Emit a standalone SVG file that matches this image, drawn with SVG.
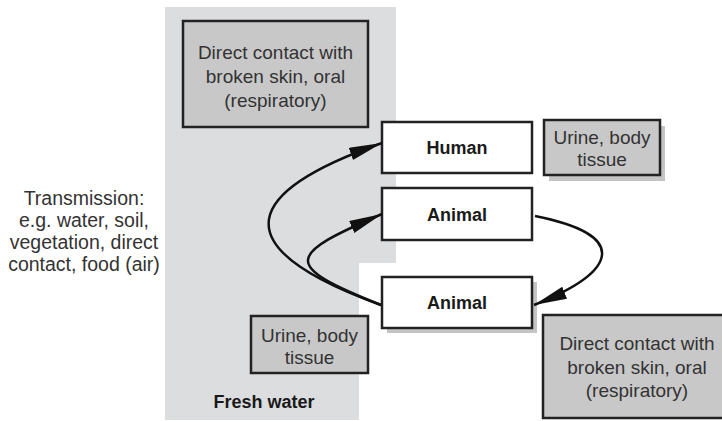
<svg xmlns="http://www.w3.org/2000/svg" width="722" height="421" viewBox="0 0 722 421">
<defs>
<style>
.box{fill:#c8c8c8;stroke:#222;stroke-width:2.5}
.wbox{fill:#fff;stroke:#222;stroke-width:2.5}
.sh{fill:#c4c4c4}
.t{font-family:"Liberation Sans",Arial,sans-serif;font-size:19px;fill:#333;text-anchor:middle}
.tr{font-size:19.5px}
.b{font-family:"Liberation Sans",Arial,sans-serif;font-size:18px;font-weight:bold;fill:#1a1a1a;text-anchor:middle}
.c{fill:none;stroke:#111;stroke-width:2.5}
</style>
<marker id="ah" markerUnits="userSpaceOnUse" markerWidth="36" markerHeight="14" refX="33" refY="6.5" orient="auto">
<path d="M0,0 L33,6.5 L0,13 Z" fill="#111"/>
</marker>
</defs>
<rect width="722" height="421" fill="#fff"/>
<g id="fresh-water">
<polygon points="165,7 396,7 396,263 359,263 359,420 165,420" fill="#dcdddf"/>
<text class="b" x="264" y="408">Fresh water</text>
</g>
<g id="transmission">
<text class="t tr" x="84" y="205">Transmission:</text>
<text class="t tr" x="84" y="227">e.g. water, soil,</text>
<text class="t tr" x="84" y="249">vegetation, direct</text>
<text class="t tr" x="84" y="271">contact, food (air)</text>
</g>
<g id="contact-top">
<rect class="box" x="183" y="21" width="185" height="106"/>
<text class="t" x="275.5" y="59">Direct contact with</text>
<text class="t" x="275.5" y="83">broken skin, oral</text>
<text class="t" x="275.5" y="107">(respiratory)</text>
</g>
<g id="human">
<rect class="wbox" x="382" y="122" width="150" height="51"/>
<text class="b" x="457" y="154">Human</text>
</g>
<g id="urine-top">
<rect class="sh" x="549" y="126" width="116" height="55"/>
<rect class="box" x="544" y="120" width="116" height="55"/>
<text class="t" x="602" y="144">Urine, body</text>
<text class="t" x="602" y="166">tissue</text>
</g>
<g id="animal-1">
<rect class="wbox" x="382" y="188" width="150" height="52"/>
<text class="b" x="457" y="221">Animal</text>
</g>
<g id="animal-2">
<rect class="sh" x="387" y="282" width="150" height="51"/>
<rect class="wbox" x="382" y="277" width="150" height="51"/>
<text class="b" x="457" y="309">Animal</text>
</g>
<g id="urine-bottom">
<rect class="box" x="251" y="316" width="117" height="57"/>
<text class="t" x="309.5" y="342">Urine, body</text>
<text class="t" x="309.5" y="364">tissue</text>
</g>
<g id="contact-bottom">
<rect class="box" x="543" y="315" width="190" height="103"/>
<text class="t" x="637" y="350">Direct contact with</text>
<text class="t" x="637" y="374">broken skin, oral</text>
<text class="t" x="637" y="397">(respiratory)</text>
</g>
<g id="connectors">
<path class="c" d="M381,305 C215,245 248,190 382,143" marker-end="url(#ah)"/>
<path class="c" d="M381,305 C280,265 287,255 382,214" marker-end="url(#ah)"/>
<path class="c" d="M535,216 C630,235 619,271 534,305" marker-end="url(#ah)"/>
</g>
</svg>
